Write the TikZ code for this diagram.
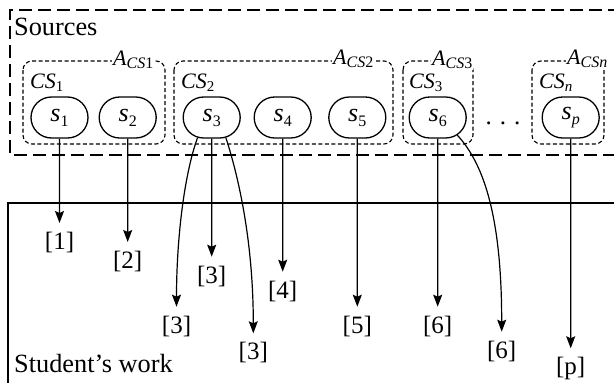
\documentclass[tikz,border=0pt]{standalone}
\usepackage{fontspec}
\setmainfont{Liberation Serif}
\usetikzlibrary{arrows.meta,shapes.misc}
\newcommand\ssub[1]{\raisebox{-5pt}{\fontsize{16}{16}\selectfont #1}}
\newcommand\csub[1]{\raisebox{-3.5pt}{\fontsize{15}{15}\selectfont #1}}
\newcommand\asub[1]{\raisebox{-3.5pt}{\fontsize{16}{16}\selectfont #1}}
\begin{document}
\begin{tikzpicture}[x=1pt,y=-1pt,
  srcnode/.style={rounded rectangle, draw, line width=1.3pt, minimum width=57pt, minimum height=41pt, inner sep=0pt, font=\fontsize{26}{26}\selectfont},
  grp/.style={draw, line width=1.1pt, dash pattern=on 4pt off 2.5pt, rounded corners=9pt},
  alab/.style={fill=white, inner sep=1pt, anchor=base west, font=\fontsize{22}{22}\selectfont},
  cslab/.style={inner sep=0pt, anchor=base west, font=\fontsize{22}{22}\selectfont},
  reflab/.style={anchor=north, inner xsep=0pt, inner ysep=9pt, font=\fontsize{25}{25}\selectfont},
  bigtext/.style={inner sep=0pt, anchor=base west, font=\fontsize{26.3}{26.3}\selectfont},
  arr/.style={-{Stealth[length=12pt,width=9pt,inset=2pt]}, line width=1.2pt}
]
\useasboundingbox (0,0) rectangle (614,383);

% outer Sources box
\draw[line width=1.4pt, dash pattern=on 13pt off 6pt] (640,10) -- (10,10) -- (10,155) -- (640,155);
\node[bigtext] (srctxt) at (14,35) {Sources};

% group boxes
\draw[grp] (23,61) rectangle (165,144);
\draw[grp] (174,61) rectangle (393,144);
\draw[grp] (403,61) rectangle (473,144);
\draw[grp] (532,61) rectangle (604,144);

\node[alab] (a1) at (112,65) {\textit{A}\asub{\textit{CS}1}};
\node[alab] (a2) at (332,64) {\textit{A}\asub{\textit{CS}2}};
\node[alab] (a3) at (431,65) {\textit{A}\asub{\textit{CS}3}};
\node[alab] (an) at (566,64) {\textit{A}\asub{\textit{CSn}}};

\node[cslab] (cs1) at (30,88) {\textit{CS}\csub{1}};
\node[cslab] (cs2) at (181,88) {\textit{CS}\csub{2}};
\node[cslab] (cs3) at (409,88) {\textit{CS}\csub{3}};
\node[cslab] (csn) at (539,88) {\textit{CS}\csub{\textit{n}}};

% source nodes
\node[srcnode] (s1) at (59.5,117.5) {\textit{s}\ssub{1}};
\node[srcnode] (s2) at (127.7,117.5) {\textit{s}\ssub{2}};
\node[srcnode] (s3) at (211.7,117.5) {\textit{s}\ssub{3}};
\node[srcnode] (s4) at (282.7,117.5) {\textit{s}\ssub{4}};
\node[srcnode] (s5) at (357.3,117.5) {\textit{s}\ssub{5}};
\node[srcnode] (s6) at (437.7,117.5) {\textit{s}\ssub{6}};
\node[srcnode] (sp) at (570.7,117.5) {\textit{s}\ssub{\textit{p}}};

\node[inner sep=0pt, anchor=base, font=\fontsize{25}{25}\selectfont] (dots) at (503,124) {.\hspace{8pt}.\hspace{8pt}.};

% student's work box
\draw[line width=2.5pt] (640,203) -- (8,203) -- (8,400);
\node[bigtext] (swtxt) at (14,372) {Student’s work};

% reference labels
\node[reflab] (l1) at (59.5,223) {[1]};
\node[reflab] (l2) at (127.7,242) {[2]};
\node[reflab] (l3a) at (211.7,256.7) {[3]};
\node[reflab] (l3b) at (176.5,306.7) {[3]};
\node[reflab] (l3c) at (253.3,333.3) {[3]};
\node[reflab] (l4) at (282.7,271.7) {[4]};
\node[reflab] (l5) at (357.3,306.7) {[5]};
\node[reflab] (l6a) at (437.7,306.7) {[6]};
\node[reflab] (l6b) at (501.7,331.7) {[6]};
\node[reflab] (lp) at (570.7,348.3) {[p]};

% arrows
\draw[arr] (s1) -- (l1);
\draw[arr] (s2) -- (l2);
\draw[arr] (s3) -- (l3a);
\draw[arr] (s3.235) .. controls (184,175) and (176.5,240) .. (l3b.north);
\draw[arr] (s3.305) .. controls (238,175) and (253.3,240) .. (l3c.north);
\draw[arr] (s4) -- (l4);
\draw[arr] (s5) -- (l5);
\draw[arr] (s6) -- (l6a);
\draw[arr] (s6.-42) .. controls (485,165) and (501.7,220) .. (l6b.north);
\draw[arr] (sp) -- (lp);
\end{tikzpicture}
\end{document}
